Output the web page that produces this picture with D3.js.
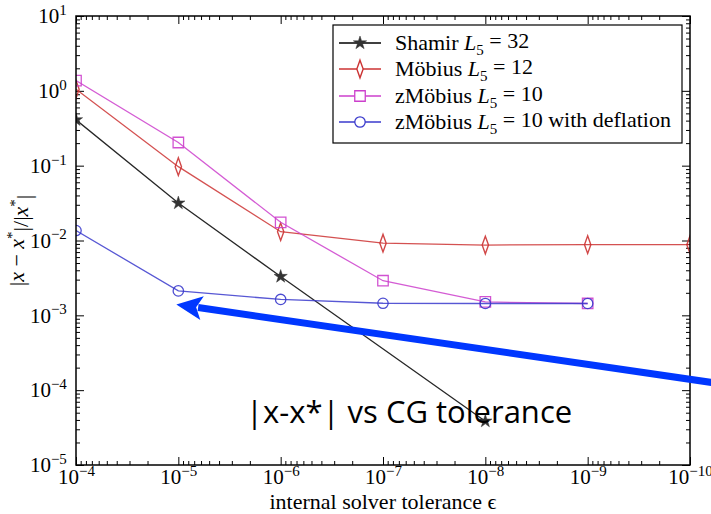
<!DOCTYPE html>
<html>
<head>
<meta charset="UTF-8">
<style>
  body { margin: 0; background: #fff; }
  svg text { font-family: "Liberation Serif", "DejaVu Serif", serif; fill: #000; }
</style>
</head>
<body>
<script src="https://d3js.org/d3.v7.min.js"></script>
<svg width="711" height="514"></svg>
<script>
// solver tolerances (x) and relative errors (y)
var tolerances   = [1e-4, 1e-5, 1e-6, 1e-7, 1e-8, 1e-9, 1e-10];
var shamirTol    = [1e-4, 1e-5, 1e-6, 1e-8];
var shamirErr    = [0.41, 0.0316, 0.0033, 3.85e-5];
var mobiusErr    = [1.05, 0.097, 0.0131, 0.0092, 0.0087, 0.0088, 0.0088];
var zmobiusErr   = [1.37, 0.204, 0.0175, 0.0029, 0.00151, 0.00144];
var deflationErr = [0.0136, 0.00212, 0.00163, 0.00145, 0.00144, 0.00144];

var xTickExps = [-4, -5, -6, -7, -8, -9, -10];
var yTickExps = [1, 0, -1, -2, -3, -4, -5];

var seriesNames = ["Shamir", "M\u00f6bius", "zM\u00f6bius", "zM\u00f6bius"];
var seriesL5    = ["32", "12", "10", "10"];
var seriesExtra = ["", "", "", " with deflation"];

// annotation arrow, in data coordinates
var arrowFrom = [6e-11, 1.26e-4];
var arrowTo   = [1e-5, 1.4e-3];
var noteText  = "|x-x*| vs CG tolerance";

var svg = d3.select("svg");
var mLeft = 76, mRight = 690, mTop = 16, mBottom = 465;

var x = d3.scaleLog().domain([1e-4, 1e-10]).range([mLeft, mRight]);
var y = d3.scaleLog().domain([1e-5, 1e1]).range([mBottom, mTop]);

function pow10(e) { return Math.pow(10, e); }
var xMajor = xTickExps.map(pow10);
var yMajor = yTickExps.map(pow10);
var xMinor = [], yMinor = [];
xTickExps.slice(1).forEach(function(e) {
  for (var m = 2; m <= 9; m++) xMinor.push(m * pow10(e));
});
yTickExps.slice(1).forEach(function(e) {
  for (var m = 2; m <= 9; m++) yMinor.push(m * pow10(e));
});

function supLabel(sel) {
  sel.selectAll(".tick text").each(function(d) {
    var t = d3.select(this);
    var e = Math.round(Math.log10(d));
    t.text(null);
    t.append("tspan").text("10");
    t.append("tspan").attr("dy", "-0.55em").attr("font-size", "15px")
      .text(String(e).replace("-", "\u2212"));
  });
}

// bottom axis
var gx = svg.append("g").attr("transform", "translate(0," + mBottom + ")")
  .call(d3.axisBottom(x).tickValues(xMajor).tickSizeInner(-8).tickSizeOuter(0).tickPadding(4));
gx.select(".domain").remove();
gx.selectAll(".tick text").attr("font-size", "21px").attr("font-family", "Liberation Serif");
supLabel(gx);
svg.append("g").attr("transform", "translate(0," + mBottom + ")")
  .call(d3.axisBottom(x).tickValues(xMinor).tickSizeInner(-4).tickSizeOuter(0).tickFormat(""))
  .select(".domain").remove();

// top axis (ticks only)
var gt = svg.append("g").attr("transform", "translate(0," + mTop + ")")
  .call(d3.axisTop(x).tickValues(xMajor).tickSizeInner(-8).tickSizeOuter(0).tickFormat(""));
gt.select(".domain").remove();
svg.append("g").attr("transform", "translate(0," + mTop + ")")
  .call(d3.axisTop(x).tickValues(xMinor).tickSizeInner(-4).tickSizeOuter(0).tickFormat(""))
  .select(".domain").remove();

// left axis
var gy = svg.append("g").attr("transform", "translate(" + mLeft + ",0)")
  .call(d3.axisLeft(y).tickValues(yMajor).tickSizeInner(-8).tickSizeOuter(0).tickPadding(6));
gy.select(".domain").remove();
gy.selectAll(".tick text").attr("font-size", "21px").attr("font-family", "Liberation Serif")
  .attr("dx", "-0.15em");
supLabel(gy);
svg.append("g").attr("transform", "translate(" + mLeft + ",0)")
  .call(d3.axisLeft(y).tickValues(yMinor).tickSizeInner(-4).tickSizeOuter(0).tickFormat(""))
  .select(".domain").remove();

// right axis (ticks only)
var gr = svg.append("g").attr("transform", "translate(" + mRight + ",0)")
  .call(d3.axisRight(y).tickValues(yMajor).tickSizeInner(-8).tickSizeOuter(0).tickFormat(""));
gr.select(".domain").remove();
svg.append("g").attr("transform", "translate(" + mRight + ",0)")
  .call(d3.axisRight(y).tickValues(yMinor).tickSizeInner(-4).tickSizeOuter(0).tickFormat(""))
  .select(".domain").remove();

svg.selectAll(".tick line").attr("stroke", "#000").attr("stroke-width", 1);

// clip for data
svg.append("clipPath").attr("id", "plotclip")
  .append("rect").attr("x", mLeft).attr("y", mTop)
  .attr("width", mRight - mLeft).attr("height", mBottom - mTop);

var plot = svg.append("g").attr("clip-path", "url(#plotclip)");

var line = d3.line().x(function(d) { return x(d[0]); }).y(function(d) { return y(d[1]); });

var star = d3.symbol().type(d3.symbolStar).size(55)();
var diamond = d3.symbol().type(d3.symbolDiamond).size(90)();
var square = d3.symbol().type(d3.symbolSquare).size(110)();
var circle = d3.symbol().type(d3.symbolCircle).size(85)();

var series = [
  { pts: d3.zip(shamirTol, shamirErr), color: "#000000", path: star, fill: "#333", sx: 1 },
  { pts: d3.zip(tolerances, mobiusErr), color: "#cc3333", path: diamond, fill: "none", sx: 0.62 },
  { pts: d3.zip(tolerances.slice(0, 6), zmobiusErr), color: "#cc3fcc", path: square, fill: "none", sx: 1 },
  { pts: d3.zip(tolerances.slice(0, 6), deflationErr), color: "#3a3acc", path: circle, fill: "none", sx: 1 }
];

series.forEach(function(s) {
  plot.append("path").datum(s.pts).attr("d", line)
    .attr("fill", "none").attr("stroke", s.color).attr("stroke-width", 1.3)
    .attr("stroke-opacity", 0.85);
  plot.selectAll(null).data(s.pts).enter().append("path")
    .attr("d", s.path)
    .attr("transform", function(d) {
      return "translate(" + x(d[0]) + "," + y(d[1]) + ") scale(" + s.sx + ",1)";
    })
    .attr("fill", s.fill)
    .attr("stroke", s.fill === "none" ? s.color : "#333")
    .attr("stroke-width", s.fill === "none" ? 1.6 / s.sx * 0.8 : 0.5)
    .attr("stroke-opacity", 0.9);
});

// frame
svg.append("rect").attr("x", mLeft).attr("y", mTop)
  .attr("width", mRight - mLeft).attr("height", mBottom - mTop)
  .attr("fill", "none").attr("stroke", "#000").attr("stroke-width", 1.5);

// axis titles
svg.append("text")
  .attr("x", (mLeft + mRight) / 2).attr("y", 509)
  .attr("text-anchor", "middle").attr("font-size", "22px")
  .text("internal solver tolerance \u03f5");

var yl = svg.append("text")
  .attr("transform", "translate(24," + ((mTop + mBottom) / 2) + ") rotate(-90)")
  .attr("text-anchor", "middle").attr("font-size", "22px");
yl.append("tspan").text("|");
yl.append("tspan").attr("font-style", "italic").text("x");
yl.append("tspan").text(" \u2212 ");
yl.append("tspan").attr("font-style", "italic").text("x");
yl.append("tspan").attr("dy", "-0.5em").attr("font-size", "15px").text("*");
yl.append("tspan").attr("dy", "0.5em").text("|/|");
yl.append("tspan").attr("font-style", "italic").text("x");
yl.append("tspan").attr("dy", "-0.5em").attr("font-size", "15px").text("*");
yl.append("tspan").attr("dy", "0.5em").text("|");

// legend
var lg = svg.append("g");
lg.append("rect").attr("x", 333).attr("y", 25).attr("width", 349).attr("height", 118)
  .attr("fill", "#fff").attr("stroke", "#000").attr("stroke-width", 1.2);
var legY = [43, 69, 96, 122];
series.forEach(function(s, i) {
  var gy2 = lg.append("g").attr("transform", "translate(0," + legY[i] + ")");
  gy2.append("line").attr("x1", 339).attr("x2", 381).attr("y1", 0).attr("y2", 0)
    .attr("stroke", s.color).attr("stroke-width", 1.3);
  gy2.append("path").attr("d", s.path)
    .attr("transform", "translate(360,0) scale(" + s.sx + ",1)")
    .attr("fill", s.fill === "none" ? "#fff" : s.fill)
    .attr("stroke", s.fill === "none" ? s.color : "#333")
    .attr("stroke-width", s.fill === "none" ? 1.6 / s.sx * 0.8 : 0.5);
  var t = gy2.append("text").attr("x", 395).attr("y", 7).attr("font-size", "22px");
  t.append("tspan").text(seriesNames[i] + " ");
  t.append("tspan").attr("font-style", "italic").text("L");
  t.append("tspan").attr("dy", "0.3em").attr("font-size", "15px").text("5");
  t.append("tspan").attr("dy", "-0.3em").text(" = " + seriesL5[i] + seriesExtra[i]);
});

// annotation arrow and text
var ax0 = x(arrowFrom[0]), ay0 = y(arrowFrom[1]);
var ax1 = x(arrowTo[0]) - 2, ay1 = y(arrowTo[1]);
var ang = Math.atan2(ay1 - ay0, ax1 - ax0);
var headLen = 26, headHalf = 12;
var bx = ax1 - headLen * Math.cos(ang), by = ay1 - headLen * Math.sin(ang);
svg.append("line").attr("x1", ax0).attr("y1", ay0).attr("x2", bx + 4 * Math.cos(ang)).attr("y2", by + 4 * Math.sin(ang))
  .attr("stroke", "#0037ff").attr("stroke-width", 7);
svg.append("polygon")
  .attr("points", [
    [ax1, ay1],
    [bx + headHalf * Math.sin(ang), by - headHalf * Math.cos(ang)],
    [bx + 6 * Math.cos(ang), by + 6 * Math.sin(ang)],
    [bx - headHalf * Math.sin(ang), by + headHalf * Math.cos(ang)]
  ].map(function(p) { return p.join(","); }).join(" "))
  .attr("fill", "#0037ff");

svg.append("text").attr("x", 246).attr("y", 423)
  .attr("font-size", "31px")
  .style("font-family", "'Open Sans', Lato, sans-serif")
  .text(noteText);
</script>
</body>
</html>
